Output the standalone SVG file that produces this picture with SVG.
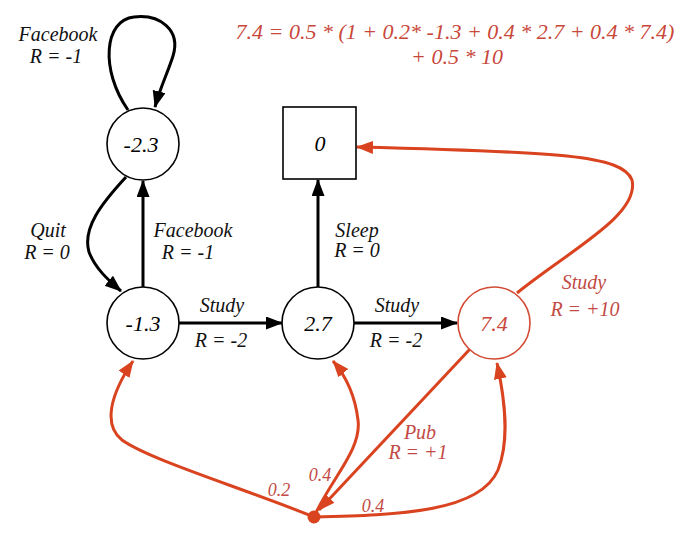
<svg xmlns="http://www.w3.org/2000/svg" width="694" height="547" viewBox="0 0 694 547">
<style>
  text { font-family: 'Liberation Serif', 'Times New Roman', 'DejaVu Serif', serif; font-style: italic; text-anchor: middle; }
  .node { fill: #ffffff; stroke: #000000; stroke-width: 1.6; }
  .rnode { fill: #ffffff; stroke: #d24a33; stroke-width: 1.6; }
  .val { font-size: 22px; fill: #000; }
  .rval { fill: #c9473a; }
  .lbl { font-size: 20px; fill: #111; }
  .rlbl { fill: #c24b45; }
  .small { font-size: 18px; }
  .eq { font-size: 22px; fill: #c9473a; }
  .blk { fill: none; stroke: #000; stroke-width: 3; marker-end: url(#ab); }
  .red { fill: none; stroke: #d9431f; stroke-width: 3; marker-end: url(#ar); }
</style>
<defs>
  <marker id="ab" markerUnits="userSpaceOnUse" markerWidth="18" markerHeight="14" refX="16" refY="6.5" orient="auto">
    <path d="M0,0 L17,6.5 L0,13 z" fill="#000"/>
  </marker>
  <marker id="ar" markerUnits="userSpaceOnUse" markerWidth="18" markerHeight="14" refX="16" refY="6.5" orient="auto">
    <path d="M0,0 L17,6.5 L0,13 z" fill="#d9431f"/>
  </marker>
</defs>

<g id="equation">
  <text class="eq" x="455" y="39">7.4 = 0.5 * (1 + 0.2* -1.3 + 0.4 * 2.7 + 0.4 * 7.4)</text>
  <text class="eq" x="457" y="64">+ 0.5 * 10</text>
</g>

<g id="connectors">
  <path class="blk" d="M128,110 C100,70 104,20 134,17 C160,14 181,30 173,56 C168,72 160,88 155,107"/>
  <path class="blk" d="M126,177 C102,203 82,228 89,252 C95,268 108,280 121,291"/>
  <path class="blk" d="M143,287 L143,181"/>
  <path class="blk" d="M179,323 L282,323"/>
  <path class="blk" d="M354,323 L457,323"/>
  <path class="blk" d="M318,287 L318,180"/>
  <path class="red" d="M517,293 C570,250 640,215 632,180 C622,155 560,152 357,147"/>
  <path class="red" d="M471,348 L319,510"/>
  <path class="red" d="M314,517 C240,487 150,460 122,440 C103,425 110,395 133,361"/>
  <path class="red" d="M314,517 C330,480 362,450 358,420 C355,395 345,375 333,361"/>
  <path class="red" d="M314,517 C400,515 480,512 498,470 C510,440 505,400 497,363"/>
</g>

<g id="node-fb">
  <circle class="node" cx="143" cy="144" r="36"/>
  <text class="val" x="141" y="152">-2.3</text>
</g>
<g id="node-c1">
  <circle class="node" cx="143" cy="323" r="36"/>
  <text class="val" x="143" y="331">-1.3</text>
</g>
<g id="node-c2">
  <circle class="node" cx="318" cy="323" r="36"/>
  <text class="val" x="318" y="331">2.7</text>
</g>
<g id="node-c3">
  <circle class="rnode" cx="494" cy="323" r="36"/>
  <text class="val rval" x="494" y="331">7.4</text>
</g>
<g id="node-sleep">
  <rect class="node" x="283" y="107" width="73" height="72"/>
  <text class="val" x="320" y="151">0</text>
</g>
<g id="node-chance">
  <circle cx="314" cy="517" r="6.5" fill="#d9431f"/>
</g>

<g id="labels">
  <text class="lbl" x="58" y="41">Facebook</text>
  <text class="lbl" x="56" y="63">R = -1</text>
  <text class="lbl" x="48" y="237">Quit</text>
  <text class="lbl" x="47" y="259">R = 0</text>
  <text class="lbl" x="193" y="237">Facebook</text>
  <text class="lbl" x="188" y="259">R = -1</text>
  <text class="lbl" x="222" y="312">Study</text>
  <text class="lbl" x="221" y="347">R = -2</text>
  <text class="lbl" x="357" y="237">Sleep</text>
  <text class="lbl" x="357" y="257">R = 0</text>
  <text class="lbl" x="397" y="312">Study</text>
  <text class="lbl" x="396" y="347">R = -2</text>
  <text class="lbl rlbl" x="584" y="289">Study</text>
  <text class="lbl rlbl" x="585" y="316">R = +10</text>
  <text class="lbl rlbl" x="420" y="439">Pub</text>
  <text class="lbl rlbl" x="418" y="459">R = +1</text>
  <text class="lbl rlbl small" x="320" y="481">0.4</text>
  <text class="lbl rlbl small" x="279" y="496">0.2</text>
  <text class="lbl rlbl small" x="373" y="512">0.4</text>
</g>
</svg>
